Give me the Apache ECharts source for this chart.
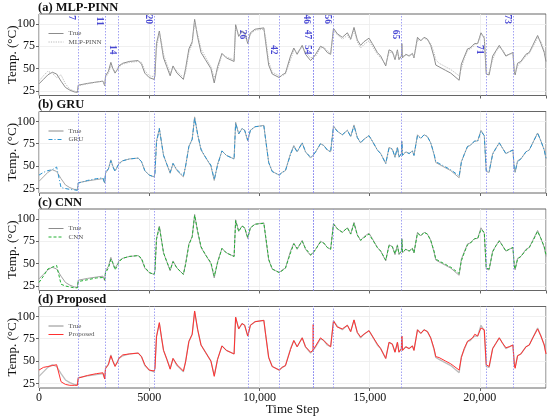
<!DOCTYPE html>
<html>
<head>
<meta charset="utf-8">
<title>Temperature prediction</title>
<script src="https://cdn.jsdelivr.net/npm/echarts@6/dist/echarts.min.js"></script>
<style>
  html, body { margin: 0; padding: 0; background: #fff; }
</style>
</head>
<body>
<div id="main" style="width: 550px; height: 417px;"></div>
<script type="text/javascript">
// time steps shared by every series
var steps = [0,200,400,600,800,1000,1200,1400,1600,1740,
  1780,2200,2600,2900,2980,3020,3150,3260,3350,3450,
  3580,3620,3800,4100,4500,4650,4800,5000,5220,5260,
  5330,5460,5560,5650,5800,5950,6080,6260,6550,6650,
  6800,6950,7060,7200,7350,7550,7800,7950,8100,8300,
  8500,8850,8920,9060,9210,9330,9470,9590,9800,10200,
  10280,10420,10580,10900,11030,11180,11410,11560,11710,11940,
  12090,12320,12430,12440,12450,12550,12770,12920,13080,13230,
  13320,13360,13530,13760,13990,14140,14290,14440,14590,14740,
  14970,15120,15350,15500,15730,15880,16030,16150,16260,16330,
  16440,16460,16490,16640,16790,16940,17010,17170,17320,17470,
  17620,17770,17920,18000,18150,18450,18680,19060,19130,19160,
  19290,19440,19560,19670,19770,19900,20050,20200,20260,20290,
  20420,20580,20730,20880,21030,21180,21330,21500,21560,21600,
  21710,21860,22090,22240,22400,22620,22770,22920,23000];

var trueTemp = [33,38,43,46,44,36,29,26,24,23.5,
  31.5,33.5,35,36,31,42,47,57,50,45,
  50,53,56,58,59,55,45,40,38,42,
  78,92,76,62,52,42,53,45,38,50,
  72,80,105,85,68,60,50,34,52,67,
  62,58,99,86,92,90,78,90,94,95.5,
  80,54,44,40,43,45,64,73,66,76,
  66,59,62,62.5,63,66,75,73,68,66,
  65,95,89,85,90,83,96,82,76,80,
  84,78,68,64,53,71,69,60,71,60,
  64,78,62,66,64,67,62,85,81,85,
  83,76,63,54,52,48,45,37,38,55,
  63,72,73,76,78,78,90,84,82,44,
  43,64,70,76,70,64,66,68,47,43,
  56,58,66,68,76,87,78,68,58];

var mlpPinn = [36,42,47,45,40,43,33,27,25,24,
  31,33,35,36,32,40,45,53,52,47,
  48,52,55,57,58,57,48,42,41,43,
  72,90,79,66,55,45,51,47,40,46,
  68,78,102,88,72,63,52,40,48,66,
  63,60,96,88,91,90,80,88,93,94,
  85,58,46,42,42,44,60,70,68,74,
  69,62,63,63,63,64,73,74,70,67,
  66,92,88,83,87,82,93,80,73,77,
  81,75,66,62,55,68,68,62,69,62,
  64,76,64,65,65,66,63,82,82,84,
  82,78,68,60,56,52,49,42,42,50,
  61,70,72,74,77,78,88,86,84,46,
  45,60,69,74,71,65,66,67,49,45,
  53,57,64,67,74,85,80,70,62];

var gru = [40,43,45,46,49,26,25,24,23.5,23,
  31,34,36,37,31,43,47,56,49,44,
  51,53,56,58,59,55,45,40,38,42,
  76,92,76,62,52,43,53,46,39,50,
  72,80,104,85,69,60,51,35,51,67,
  62,58,98,86,92,90,79,90,94,95,
  80,54,44,40,43,45,63,72,66,76,
  66,60,62,62.5,63,66,75,73,68,66,
  65,94,89,85,90,83,95,82,76,80,
  84,78,68,64,53,70,69,60,71,60,
  64,77,62,66,64,67,62,84,81,85,
  83,76,64,55,53,49,46,39,39,54,
  63,72,73,76,78,78,89,84,82,45,
  44,63,70,76,70,64,66,68,47,44,
  55,58,66,68,76,87,78,68,59];

var cnn = [29,36,44,46,48,27,25,24,23,23,
  30,32,34,34.5,32,40,45,55,51,43,
  49,52,56,58,59,56,46,40,38,42,
  77,91,76,62,52,43,52,45,38,49,
  71,80,104,86,69,60,51,36,51,67,
  62,58,98,86,92,90,79,90,94,95,
  81,55,44,40,42,45,62,72,67,75,
  67,60,62,62.5,63,66,74,73,68,66,
  65,94,89,85,90,83,95,82,76,79,
  83,77,68,64,54,70,69,61,70,61,
  64,77,63,66,64,67,62,84,81,85,
  83,76,64,55,53,49,46,39,39,53,
  62,71,73,75,78,78,88,85,83,45,
  44,63,70,75,70,64,66,68,48,44,
  55,58,65,68,75,86,78,69,60];

var proposed = [40,43,44,45,46,27,24,23,23,23,
  31,34,36,37,30,42,46,56,50,44,
  50,53,57,58,59,55,46,40,39,42,
  77,93,76,62,52,41,53,46,39,49,
  72,80,106,85,68,60,50,33,52,67,
  62,58,99,86,92,90,78,90,94,95.5,
  80,54,44,40,43,45,63,73,66,76,
  66,60,62,91,63,67,76,73,69,66,
  64,95,88,86,90,83,96,82,77,80,
  84,78,69,64,53,71,69,60,71,60,
  64,78,62,66,64,67,62,85,81,85,
  83,76,64,55,54,50,47,40,40,54,
  64,72,74,76,80,78,87,85,84,46,
  44,64,70,76,70,65,66,68,47,42,
  56,58,66,68,76,86,78,68,58];

// marked events (vertical lines) and the height of their labels in panel (a)
var eventNames = ['7','11','14','20','26','42','46','47','54','56','65','71','73'];
var eventSteps = [1760,3000,3600,5240,9480,10920,12420,12440,12460,13350,16450,20270,21530];
var eventLabelY = [107,103,71,105,88,71,105,88,71,105,88,71,105];

var yTicks = [25,50,75,100];

var panels = [
  {title: '(a) MLP-PINN', name: 'MLP-PINN', values: mlpPinn,
   line: {color: '#b8b8b8', width: 1, type: [1.2,1.2]}, trueColor: '#8c8c8c'},
  {title: '(b) GRU', name: 'GRU', values: gru,
   line: {color: '#2a93d0', width: 1, type: [4,2,1,2]}, trueColor: '#a6a6a6'},
  {title: '(c) CNN', name: 'CNN', values: cnn,
   line: {color: '#22b033', width: 1, type: [3,2]}, trueColor: '#a0a0a0'},
  {title: '(d) Proposed', name: 'Proposed', values: proposed,
   line: {color: '#ff3030', width: 1, type: 'solid'}, trueColor: '#bcbcbc'}
];

var serif = 'Liberation Serif, DejaVu Serif, serif';
var gridTops = [14, 111.5, 209, 306.5];
var gridH = 81.5;

function pairs(vals) {
  return steps.map(function (s, i) { return [s, vals[i]]; });
}

var myCharts = echarts.init(document.getElementById('main'));
var option = {
  backgroundColor: '#fff',
  animation: false,
  title: [], legend: [], grid: [], xAxis: [], yAxis: [], series: []
};

panels.forEach(function (p, k) {
  var last = k === panels.length - 1;
  option.title.push({
    text: p.title, left: 38, top: gridTops[k] - 13, padding: 0,
    textStyle: {fontFamily: serif, fontSize: 12.5, fontWeight: 'bold', color: '#111'}
  });
  option.grid.push({
    left: 39, right: 4, top: gridTops[k], height: gridH,
    containLabel: false, outerBoundsMode: 'none',
    show: true, borderColor: '#666', borderWidth: 1, backgroundColor: '#fff'
  });
  option.legend.push({
    left: 43, top: gridTops[k] + 11, orient: 'vertical',
    itemWidth: 15, itemHeight: 6, itemGap: 1.5,
    itemStyle: {opacity: 0},
    lineStyle: {width: 1},
    textStyle: {fontFamily: serif, fontSize: 7, color: '#555'},
    data: ['True', p.name]
  });
  option.xAxis.push({
    type: 'value', gridIndex: k, min: 0, max: 23000, interval: 5000,
    name: last ? 'Time Step' : '', nameLocation: 'middle', nameGap: 15,
    nameMoveOverlap: false,
    nameTextStyle: {fontFamily: serif, fontSize: 13, color: '#111'},
    axisLine: {show: false},
    axisTick: {show: true, length: 3, lineStyle: {color: '#666'}},
    axisLabel: {
      show: last, fontFamily: serif, fontSize: 12, color: '#111', margin: 4,
      showMaxLabel: false,
      formatter: function (v) { return v >= 10000 ? (v / 1000) + ',000' : String(v); }
    },
    splitLine: {show: true, lineStyle: {color: '#ececec', width: 0.8}}
  });
  option.yAxis.push({
    type: 'value', gridIndex: k, min: 20, max: 111,
    name: 'Temp. (°C)', nameLocation: 'middle', nameGap: 20,
    nameMoveOverlap: false,
    nameTextStyle: {fontFamily: serif, fontSize: 13, color: '#111'},
    axisLine: {show: false},
    axisTick: {show: true, length: 3, customValues: yTicks, lineStyle: {color: '#666'}},
    axisLabel: {fontFamily: serif, fontSize: 12, color: '#111', margin: 4, customValues: yTicks},
    splitLine: {show: true, lineStyle: {color: '#ececec', width: 0.8}}
  });
  option.series.push({
    name: 'True', type: 'line', xAxisIndex: k, yAxisIndex: k,
    data: pairs(trueTemp), symbol: 'none', z: 2,
    lineStyle: {color: p.trueColor, width: last ? 1.3 : 1},
    itemStyle: {color: p.trueColor},
    markLine: {
      silent: true, symbol: 'none', animation: false,
      label: {show: false},
      lineStyle: {color: '#8a8af0', width: 0.8, type: [1.5,1.5]},
      data: eventSteps.map(function (s) { return {xAxis: s}; })
    }
  });
  option.series.push({
    name: p.name, type: 'line', xAxisIndex: k, yAxisIndex: k,
    data: pairs(p.values), symbol: 'none', z: 3,
    lineStyle: p.line, itemStyle: {color: p.line.color}
  });
});

// event numbers in panel (a)
option.series.push({
  type: 'scatter', xAxisIndex: 0, yAxisIndex: 0, symbolSize: 0, silent: true,
  data: eventSteps.map(function (s, i) { return [s, eventLabelY[i], eventNames[i]]; }),
  label: {
    show: true, position: 'left', rotate: -90, distance: 1, align: 'center', verticalAlign: 'top',
    fontFamily: serif, fontSize: 9.5, fontWeight: 'bold', color: '#1a1ac8',
    formatter: function (d) { return d.value[2]; }
  }
});

myCharts.setOption(option);
</script>
</body>
</html>
